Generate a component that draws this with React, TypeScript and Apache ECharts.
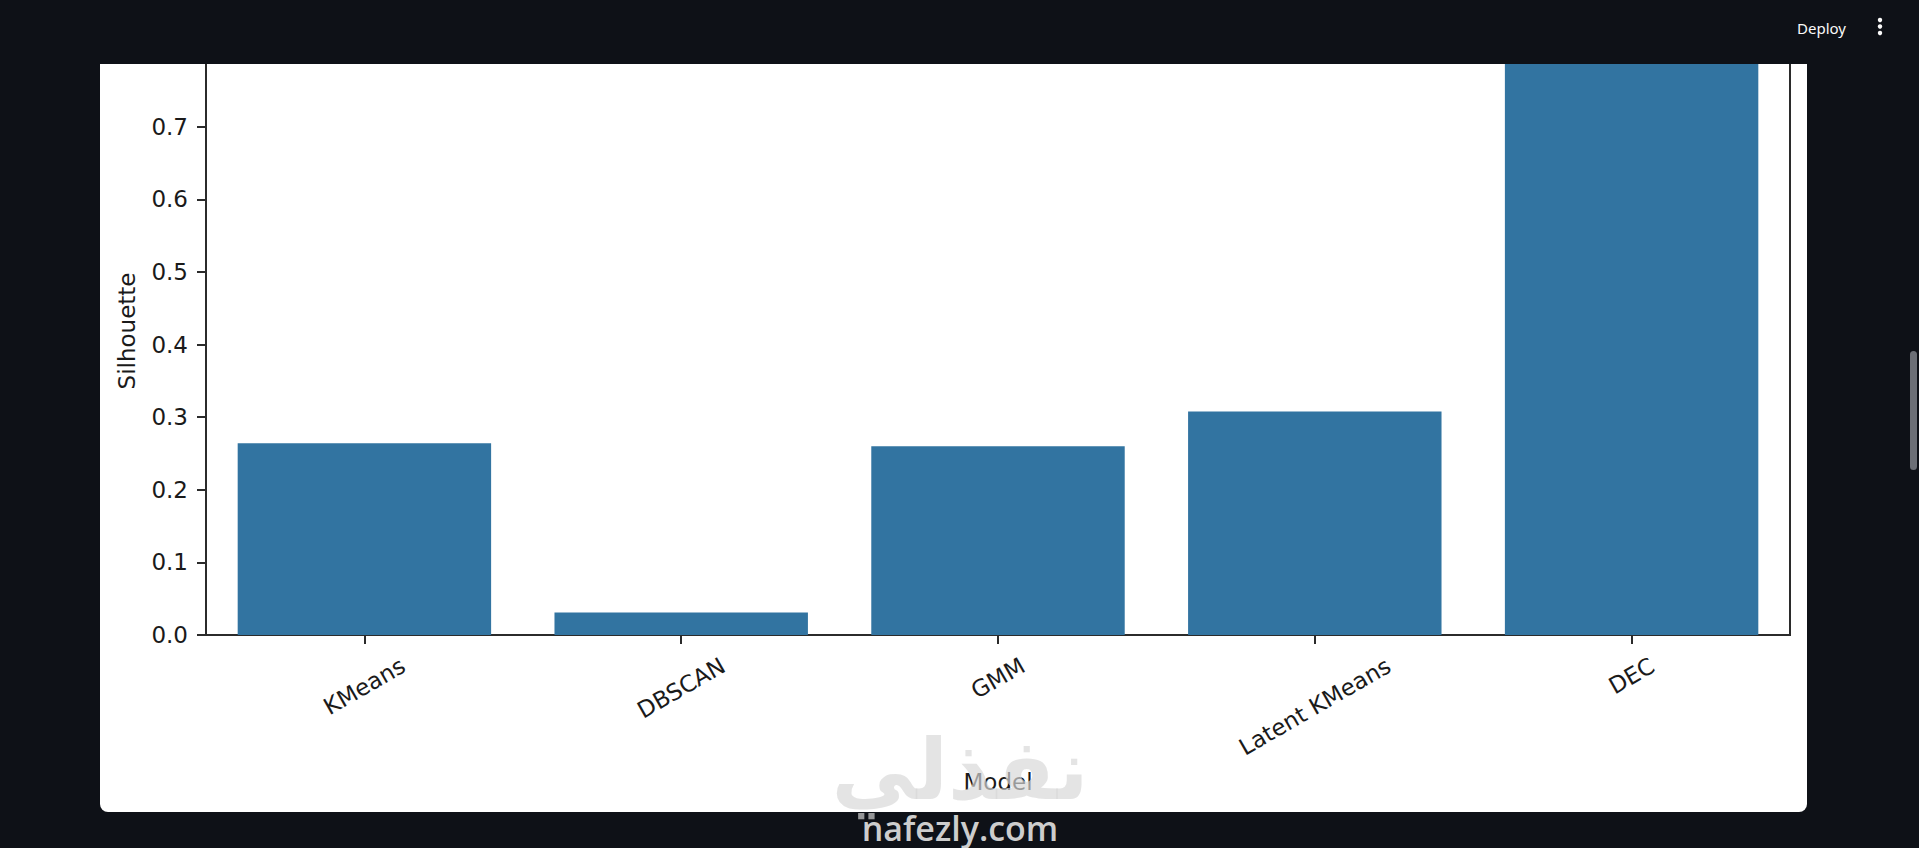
import React, { useEffect, useRef } from "react";
import * as echarts from "echarts";

// ---- data ----
const categories = ["KMeans", "DBSCAN", "GMM", "Latent KMeans", "DEC"];
const silhouette = [0.264, 0.031, 0.26, 0.308, 0.797];
const yTicks = [0, 0.1, 0.2, 0.3, 0.4, 0.5, 0.6, 0.7];
const xAxisTitle = "Model";
const yAxisTitle = "Silhouette";

const FONT = '"DejaVu Sans", sans-serif';
const LABEL_SIZE = 23;
const INK = "#1a1a1a";
const SPINE = "#2b2b2b";

let measureCtx: CanvasRenderingContext2D | null = null;
function textWidth(t: string): number {
  if (!measureCtx) measureCtx = document.createElement("canvas").getContext("2d");
  if (!measureCtx) return t.length * LABEL_SIZE * 0.6;
  measureCtx.font = `${LABEL_SIZE}px "DejaVu Sans"`;
  return measureCtx.measureText(t).width;
}

export default function App() {
  const ref = useRef<HTMLDivElement>(null);

  useEffect(() => {
    if (!ref.current) return;
    const chart = echarts.init(ref.current, undefined, { renderer: "svg" });
    const theta = Math.PI / 6;
    const option: any = {
      animation: false,
      grid: {
        left: 206,
        right: 129,
        top: 27,
        bottom: 213,
        show: true,
        borderColor: SPINE,
        borderWidth: 2,
        backgroundColor: "transparent",
      },
      xAxis: {
        type: "category",
        data: categories,
        name: xAxisTitle,
        nameLocation: "middle",
        nameGap: 135,
        nameTextStyle: { fontFamily: FONT, fontSize: LABEL_SIZE, color: INK },
        axisLine: { show: true, lineStyle: { color: SPINE, width: 2 } },
        axisTick: { show: true, alignWithLabel: true, length: 9, lineStyle: { color: SPINE, width: 2 } },
        axisLabel: { show: false },
        splitLine: { show: false },
      },
      yAxis: {
        type: "value",
        min: 0,
        max: 0.8375,
        interval: 0.1,
        name: yAxisTitle,
        nameLocation: "middle",
        nameRotate: 90,
        nameGap: 68,
        nameTextStyle: { fontFamily: FONT, fontSize: LABEL_SIZE, color: INK },
        axisLine: { show: true, lineStyle: { color: SPINE, width: 2 } },
        axisTick: { show: true, length: 9, customValues: yTicks, lineStyle: { color: SPINE, width: 2 } },
        axisLabel: {
          customValues: yTicks,
          formatter: (v: number) => v.toFixed(1),
          margin: 18,
          fontFamily: FONT,
          fontSize: LABEL_SIZE,
          color: INK,
        },
        splitLine: { show: false },
      },
      series: [
        {
          type: "bar",
          data: silhouette,
          barCategoryGap: "20%",
          itemStyle: { color: "#3274a1" },
          z: 2,
        },
        {
          type: "custom",
          silent: true,
          z: 3,
          data: categories.map((c) => [c, 0]),
          renderItem: (params: any, api: any) => {
            const label = categories[params.dataIndex];
            const pt = api.coord([api.value(0), 0]);
            const w = textWidth(label);
            const h = 27;
            const bboxH = w * Math.sin(theta) + h * Math.cos(theta);
            return {
              type: "text",
              x: pt[0],
              y: pt[1] + 17 + bboxH / 2,
              rotation: theta,
              style: {
                text: label,
                x: 0,
                y: 0,
                align: "center",
                verticalAlign: "middle",
                textAlign: "center",
                textVerticalAlign: "middle",
                fontFamily: FONT,
                fontSize: LABEL_SIZE,
                fill: INK,
              },
            };
          },
        },
      ],
      graphic: [
        { type: "rect", z: 100, shape: { x: 0, y: 0, width: 1919, height: 64 }, style: { fill: "#0e1117" } },
        {
          type: "text",
          z: 101,
          x: 1797,
          y: 28,
          style: { text: "Deploy", fill: "#fafafa", fontFamily: '"Noto Sans", sans-serif', fontSize: 15, verticalAlign: "middle", textVerticalAlign: "middle" },
        },
        { type: "circle", z: 101, shape: { cx: 1880, cy: 20, r: 2.2 }, style: { fill: "#fafafa" } },
        { type: "circle", z: 101, shape: { cx: 1880, cy: 26.5, r: 2.2 }, style: { fill: "#fafafa" } },
        { type: "circle", z: 101, shape: { cx: 1880, cy: 33, r: 2.2 }, style: { fill: "#fafafa" } },
        { type: "rect", z: 101, shape: { x: 1910, y: 351, width: 7, height: 119, r: 3.5 }, style: { fill: "#6c6f76" } },
        {
          type: "text",
          z: 102,
          x: 960,
          y: 770,
          style: {
            text: "نفذلي",
            fill: "rgba(215,215,215,0.68)",
            fontFamily: '"DejaVu Sans", sans-serif',
            fontWeight: "bold",
            fontSize: 84,
            align: "center",
            verticalAlign: "middle",
            textAlign: "center",
            textVerticalAlign: "middle",
          },
        },
        {
          type: "text",
          z: 102,
          x: 960,
          y: 828,
          style: {
            text: "nafezly.com",
            fill: "#cdcdcd",
            fontFamily: '"Open Sans", sans-serif',
            fontWeight: 600,
            fontSize: 34,
            align: "center",
            verticalAlign: "middle",
            textAlign: "center",
            textVerticalAlign: "middle",
          },
        },
      ],
    };
    chart.setOption(option);
    return () => chart.dispose();
  }, []);

  return (
    <div style={{ position: "fixed", left: 0, top: 0, width: 1919, height: 848, background: "#0e1117", overflow: "hidden" }}>
      <div
        style={{
          position: "absolute",
          left: 100,
          top: 0,
          width: 1707,
          height: 812,
          background: "#ffffff",
          borderRadius: "0 0 8px 8px",
        }}
      />
      <div ref={ref} style={{ position: "absolute", left: 0, top: 0, width: 1919, height: 848 }} />
    </div>
  );
}
